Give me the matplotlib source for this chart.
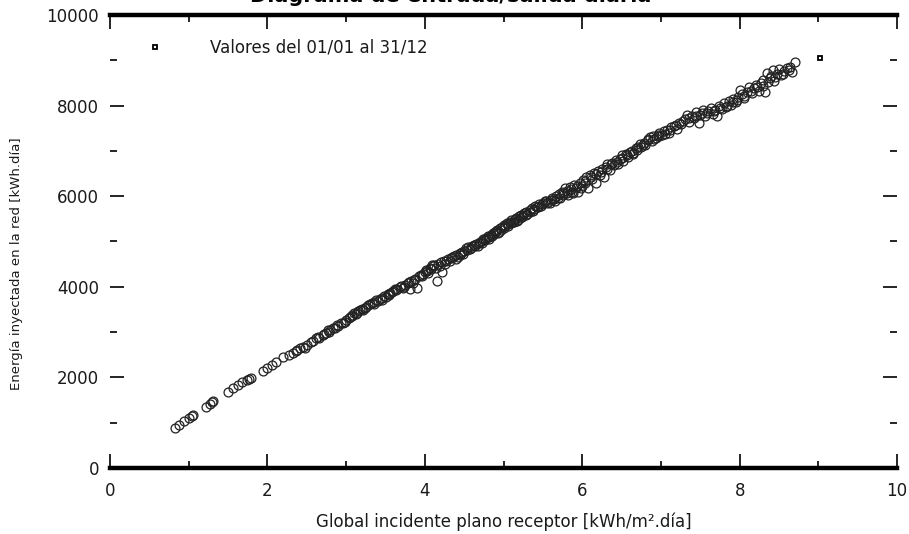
import matplotlib
matplotlib.use("Agg")
import matplotlib.pyplot as plt
from matplotlib.ticker import MultipleLocator

plt.rcParams['font.family'] = ['DejaVu Sans']

# Daily values: global irradiance on receiver plane [kWh/m2.day] vs energy injected [kWh.day]
irradiance = [
    0.83, 0.88, 0.94, 1.00, 1.04, 1.05,
    1.22, 1.27, 1.29, 1.31,
    1.50, 1.56, 1.62, 1.68, 1.74, 1.77, 1.79,
    1.94, 2.00, 2.06, 2.11, 2.20, 2.27, 2.32, 2.36, 2.38, 2.42,
    2.45, 2.50, 2.55, 2.58, 2.62, 2.66, 2.70, 2.72, 2.75, 2.78, 2.80, 2.83, 2.86, 2.90,
    2.93, 2.96, 3.00, 3.03, 3.05, 3.08, 3.10, 3.12, 3.15, 3.18, 3.20, 3.22, 3.25, 3.28,
    3.30, 3.33, 3.36, 3.38, 3.40, 3.43, 3.46, 3.48, 3.50, 3.53, 3.56, 3.58, 3.60, 3.63,
    3.65, 3.68, 3.70, 3.72, 3.75, 3.78, 3.80, 3.81, 3.83, 3.86, 3.88, 3.90, 3.92, 3.95, 3.98,
    4.00, 4.02, 4.04, 4.06, 4.08, 4.10, 4.12, 4.15, 4.17, 4.19, 4.22, 4.24, 4.27, 4.30,
    4.32, 4.35, 4.37, 4.40, 4.42, 4.45, 4.47, 4.50, 4.52, 4.55, 4.57, 4.60, 4.62, 4.65,
    4.67, 4.70, 4.72, 4.74, 4.76, 4.78, 4.80, 4.82, 4.84, 4.86, 4.88, 4.90, 4.92, 4.94,
    4.96, 4.98, 5.00, 5.02, 5.04, 5.06, 5.08, 5.10, 5.12, 5.14, 5.16, 5.18, 5.20, 5.22,
    5.24, 5.26, 5.28, 5.30, 5.33, 5.36, 5.38, 5.40, 5.42, 5.45, 5.47, 5.50, 5.52, 5.55,
    5.57, 5.60, 5.62, 5.65, 5.67, 5.70, 5.72, 5.74, 5.76, 5.78, 5.80, 5.82, 5.84, 5.86,
    5.88, 5.90, 5.92, 5.95, 5.97, 5.99,
    6.01, 6.03, 6.05, 6.07, 6.10, 6.12, 6.15, 6.17, 6.20, 6.22, 6.25, 6.27, 6.30, 6.32,
    6.35, 6.38, 6.40, 6.43, 6.45, 6.48, 6.50, 6.52, 6.55, 6.58, 6.60, 6.63, 6.65, 6.68,
    6.70, 6.73, 6.75, 6.78, 6.80, 6.83, 6.86, 6.88, 6.90, 6.93, 6.96, 6.98, 7.01, 7.04,
    7.07, 7.10, 7.13, 7.16, 7.20, 7.23, 7.26, 7.30, 7.33, 7.36, 7.39, 7.42, 7.45, 7.48,
    7.50, 7.53, 7.56, 7.60, 7.63, 7.66, 7.69, 7.71, 7.74, 7.77, 7.80, 7.83, 7.86, 7.89,
    7.92, 7.95, 7.98,
    8.00, 8.03, 8.06, 8.09, 8.12, 8.15, 8.18, 8.21, 8.24, 8.27, 8.30, 8.32, 8.35, 8.38,
    8.40, 8.42, 8.44, 8.47, 8.50, 8.53, 8.56, 8.60, 8.64, 8.67, 8.70,
    2.48, 2.64, 2.77, 2.88, 2.98, 3.07, 3.14, 3.24, 3.35, 3.45, 3.55, 3.62, 3.74, 3.85, 3.96,
    4.03, 4.09, 4.14, 4.21, 4.26, 4.33, 4.39, 4.44, 4.49, 4.54, 4.59, 4.64, 4.69, 4.73,
    4.77, 4.81, 4.85, 4.89, 4.93, 4.97, 5.01, 5.05, 5.09, 5.13, 5.17, 5.21, 5.25, 5.29,
    5.34, 5.39, 5.44, 5.49, 5.54, 5.59, 5.64, 5.69, 5.75, 5.81, 5.87, 5.93, 5.98,
    6.04, 6.11, 6.18, 6.24, 6.31, 6.37, 6.44, 6.51, 6.57, 6.64, 6.71, 6.77, 6.84, 6.91,
    6.97, 7.05, 7.12, 7.19, 7.28, 7.35, 7.44, 7.52, 7.58, 7.67, 7.75, 7.84, 7.91, 7.97,
    8.05, 8.14, 8.22, 8.29, 8.36, 8.45, 8.55, 8.62,
]
energy = [
    880, 950, 1030, 1100, 1140, 1170,
    1340, 1420, 1460, 1480,
    1680, 1760, 1830, 1890, 1950, 1960, 1980,
    2130, 2200, 2270, 2330, 2440, 2500, 2540, 2590, 2600, 2650,
    2680, 2720, 2790, 2810, 2860, 2880, 2940, 2960, 2990, 3010, 3050, 3080, 3100, 3140,
    3200, 3210, 3260, 3300, 3340, 3380, 3420, 3400, 3460, 3490, 3510, 3480, 3560, 3600,
    3620, 3650, 3660, 3700, 3680, 3740, 3760, 3790, 3780, 3830, 3860, 3880, 3900, 3920,
    3960, 3990, 4010, 3980, 4040, 4080, 4100, 3940, 4120, 4150, 4170, 3980, 4230, 4260, 4280,
    4330, 4380, 4300, 4420, 4400, 4450, 4480, 4130, 4500, 4460, 4320, 4560, 4580, 4610,
    4570, 4650, 4680, 4700, 4660, 4740, 4770, 4800, 4850, 4870, 4830, 4900, 4920, 4950,
    4910, 4990, 5010, 5050, 5030, 5080, 5120, 5100, 5150, 5180, 5160, 5230, 5250, 5210,
    5290, 5320, 5360, 5340, 5400, 5380, 5430, 5470, 5440, 5500, 5520, 5480, 5560, 5590,
    5550, 5620, 5650, 5610, 5700, 5740, 5680, 5790, 5760, 5820, 5780, 5860, 5900, 5840,
    5880, 5920, 5960, 5900, 6000, 6040, 5970, 6100, 6060, 6180, 6120, 6020, 6200, 6150,
    6060, 6250, 6190, 6100, 6300, 6230,
    6350, 6280, 6420, 6170, 6460, 6380, 6510, 6300, 6550, 6470, 6600, 6420, 6640, 6700,
    6580, 6740, 6680, 6790, 6720, 6830, 6900, 6780, 6920, 6860, 6970, 7000, 6930, 7060,
    7020, 7150, 7090, 7180, 7130, 7230, 7300, 7210, 7330, 7280, 7360, 7400, 7340, 7430,
    7460, 7400, 7520, 7550, 7480, 7620, 7590, 7700, 7800, 7640, 7760, 7720, 7850, 7620,
    7800, 7900, 7760, 7880, 7950, 7820, 7900, 7780, 7990, 7920, 8050, 7960, 8100, 8020,
    8150, 8080, 8200,
    8350, 8250, 8160, 8300, 8420, 8280, 8380, 8450, 8330, 8500, 8560, 8300, 8720, 8600,
    8650, 8790, 8550, 8700, 8800, 8680, 8760, 8840, 8860, 8730, 8970,
    2650, 2900, 3040, 3160, 3230, 3350, 3430, 3530, 3620, 3710, 3820, 3950, 4000, 4090, 4230,
    4350, 4480, 4420, 4540, 4500, 4640, 4620, 4700, 4730, 4810, 4860, 4890, 4960, 4970,
    5060, 5060, 5110, 5200, 5180, 5250, 5300, 5350, 5400, 5420, 5460, 5520, 5590, 5580,
    5660, 5720, 5750, 5820, 5890, 5860, 5940, 5950, 6020, 6080, 6100, 6230, 6180,
    6330, 6420, 6480, 6540, 6600, 6700, 6760, 6840, 6900, 6960, 7080, 7120, 7260, 7270,
    7320, 7380, 7470, 7580, 7650, 7720, 7780, 7840, 7830, 7880, 7950, 8000, 8080, 8120,
    8220, 8320, 8400, 8440, 8520, 8640, 8700, 8780,
]
# isolated square-marker point at the upper right
extra_x = [9.02]
extra_y = [9060]

title = "Diagrama de entrada/salida diaria"
legend_label = "Valores del 01/01 al 31/12"
xlabel = "Global incidente plano receptor [kWh/m\u00b2.d\u00eda]"
ylabel = "Energ\u00eda inyectada en la red [kWh.d\u00eda]"

fig = plt.figure(figsize=(9.09, 5.34), dpi=100)
ax = fig.add_axes([0.121, 0.1236, 0.866, 0.8484])

ax.plot(irradiance, energy, linestyle='none', marker='o', markersize=6.4,
        markerfacecolor='none', markeredgecolor='#222222', markeredgewidth=0.9)
ax.plot(extra_x, extra_y, linestyle='none', marker='s', markersize=3.5,
        markerfacecolor='white', markeredgecolor='black', markeredgewidth=1.3)

ax.set_xlim(0, 10)
ax.set_ylim(0, 10000)
ax.xaxis.set_major_locator(MultipleLocator(2))
ax.xaxis.set_minor_locator(MultipleLocator(1))
ax.yaxis.set_major_locator(MultipleLocator(2000))
ax.yaxis.set_minor_locator(MultipleLocator(1000))

for s in ['left', 'right']:
    ax.spines[s].set_visible(False)
for s in ['top', 'bottom']:
    ax.spines[s].set_linewidth(3.2)
    ax.spines[s].set_color('black')

ax.tick_params(which='both', direction='in', top=True, right=True, color='black')
ax.tick_params(which='major', length=10, width=1.2, labelsize=12, pad=8,
               labelcolor='#1a1a1a')
ax.tick_params(which='minor', length=5, width=1.2)
ax.tick_params(axis='x', which='major', pad=10)

ax.set_xlabel(xlabel, fontsize=12, labelpad=9, color='#1a1a1a')
ax.set_ylabel(ylabel, fontsize=9.5, color='#1a1a1a')
ax.yaxis.set_label_coords(-0.111, 0.452)

# legend
ax.plot([0.057], [0.929], transform=ax.transAxes, marker='s', markersize=3.5,
        markerfacecolor='white', markeredgecolor='black', markeredgewidth=1.3,
        linestyle='none', clip_on=False)
ax.text(0.127, 0.929, legend_label, transform=ax.transAxes, fontsize=12,
        va='center', ha='left', color='#1a1a1a')

fig.text(0.496, 1 - 1.5 / 534, title, ha='center', va='baseline', fontsize=15,
         fontweight='bold')

fig.savefig("out.png", dpi=100)
